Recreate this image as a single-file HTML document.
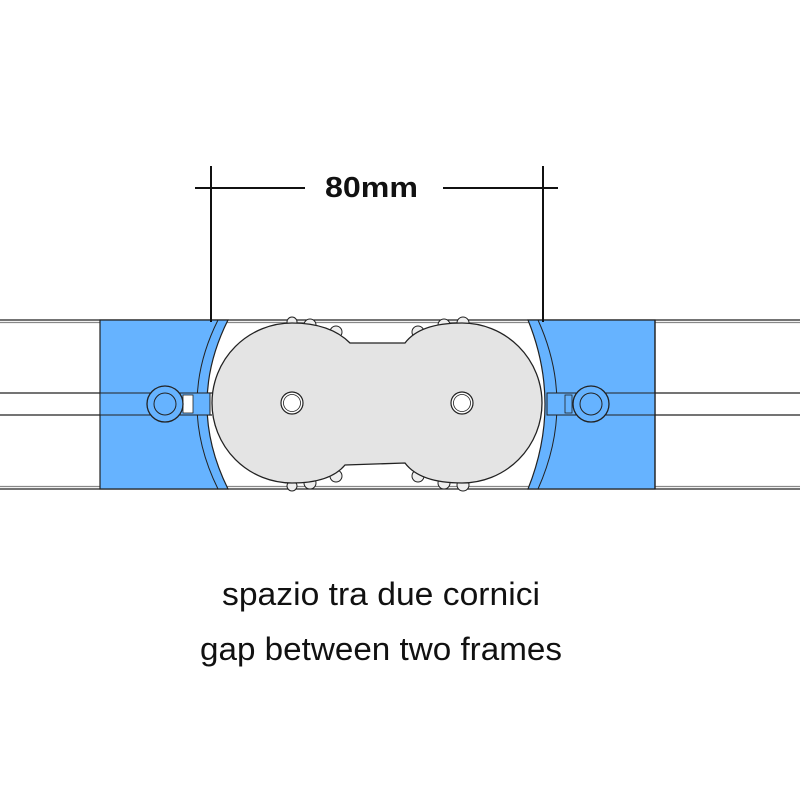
<!DOCTYPE html>
<html><head><meta charset="utf-8"><style>
html,body{margin:0;padding:0;background:#fff;}
svg{display:block}
</style></head><body>
<svg width="800" height="800" viewBox="0 0 800 800" xmlns="http://www.w3.org/2000/svg">
<rect width="800" height="800" fill="#fff"/>
<!-- rails -->
<g stroke="#222" stroke-width="1.3" fill="none">
<line x1="0" y1="320" x2="800" y2="320"/>
<line x1="0" y1="322.5" x2="800" y2="322.5" stroke="#888"/>
<line x1="0" y1="393" x2="212" y2="393"/>
<line x1="0" y1="415" x2="212" y2="415"/>
<line x1="545" y1="393" x2="800" y2="393"/>
<line x1="545" y1="415" x2="800" y2="415"/>
<line x1="0" y1="486.5" x2="800" y2="486.5" stroke="#888"/>
<line x1="0" y1="489" x2="800" y2="489"/>
</g>
<!-- left blue clamp -->
<path d="M100 320 L228 320 Q186 404 228 489 L100 489 Z" fill="#66b3ff" stroke="#222" stroke-width="1.2"/>
<path d="M218 320 Q176 404 218 489" fill="none" stroke="#222" stroke-width="1"/>
<rect x="100" y="393" width="110" height="22" fill="#66b3ff" stroke="#222" stroke-width="1"/>
<rect x="183" y="395" width="10" height="18" fill="#fff" stroke="#222" stroke-width="0.8"/>
<circle cx="165" cy="404" r="18" fill="#66b3ff" stroke="#222" stroke-width="1.3"/>
<circle cx="165" cy="404" r="11" fill="#66b3ff" stroke="#222" stroke-width="1"/>
<!-- right blue clamp -->
<path d="M528 320 L655 320 L655 489 L528 489 Q562 404 528 320 Z" fill="#66b3ff" stroke="#222" stroke-width="1.2"/>
<path d="M538 320 Q576 404 538 489" fill="none" stroke="#222" stroke-width="1"/>
<rect x="547" y="393" width="108" height="22" fill="#66b3ff" stroke="#222" stroke-width="1"/>
<rect x="565" y="395" width="7" height="18" fill="#66b3ff" stroke="#222" stroke-width="0.8"/>
<circle cx="591" cy="404" r="18" fill="#66b3ff" stroke="#222" stroke-width="1.3"/>
<circle cx="591" cy="404" r="11" fill="#66b3ff" stroke="#222" stroke-width="1"/>
<line x1="655" y1="320" x2="655" y2="489" stroke="#222" stroke-width="1.3"/>
<!-- knobs -->
<g fill="#eee" stroke="#222" stroke-width="1">
<circle cx="310" cy="325" r="6"/><circle cx="336" cy="332" r="6"/><circle cx="310" cy="483" r="6"/><circle cx="336" cy="476" r="6"/>
<circle cx="444" cy="325" r="6"/><circle cx="418" cy="332" r="6"/><circle cx="444" cy="483" r="6"/><circle cx="418" cy="476" r="6"/>
<circle cx="463" cy="323" r="6"/><circle cx="463" cy="485" r="6"/><circle cx="292" cy="322" r="5"/><circle cx="292" cy="486" r="5"/>
</g>
<!-- grey connector -->
<path d="M292 323 A80 80 0 0 0 292 483 Q330 483 345 465 L405 463 Q420 483 462 483 A80 80 0 0 0 462 323 Q420 323 405 343 L350 343 Q330 323 292 323 Z" fill="#e4e4e4" stroke="#222" stroke-width="1.3"/>
<circle cx="292" cy="403" r="11" fill="#fff" stroke="#222" stroke-width="1.2"/>
<circle cx="292" cy="403" r="8.5" fill="#fff" stroke="#222" stroke-width="0.8"/>
<circle cx="462" cy="403" r="11" fill="#fff" stroke="#222" stroke-width="1.2"/>
<circle cx="462" cy="403" r="8.5" fill="#fff" stroke="#222" stroke-width="0.8"/>
<!-- dimension -->
<g stroke="#111" stroke-width="2">
<line x1="211" y1="166" x2="211" y2="322"/>
<line x1="543" y1="166" x2="543" y2="322"/>
<line x1="195" y1="188" x2="305" y2="188"/>
<line x1="443" y1="188" x2="558" y2="188"/>
</g>
<text x="325" y="197" textLength="93" lengthAdjust="spacingAndGlyphs" font-family="Liberation Sans, sans-serif" font-weight="bold" font-size="29" fill="#111">80mm</text>
<text x="222" y="605" textLength="318" lengthAdjust="spacingAndGlyphs" font-family="Liberation Sans, sans-serif" font-size="32" fill="#111">spazio tra due cornici</text>
<text x="200" y="660" textLength="362" lengthAdjust="spacingAndGlyphs" font-family="Liberation Sans, sans-serif" font-size="32" fill="#111">gap between two frames</text>
</svg>
</body></html>
